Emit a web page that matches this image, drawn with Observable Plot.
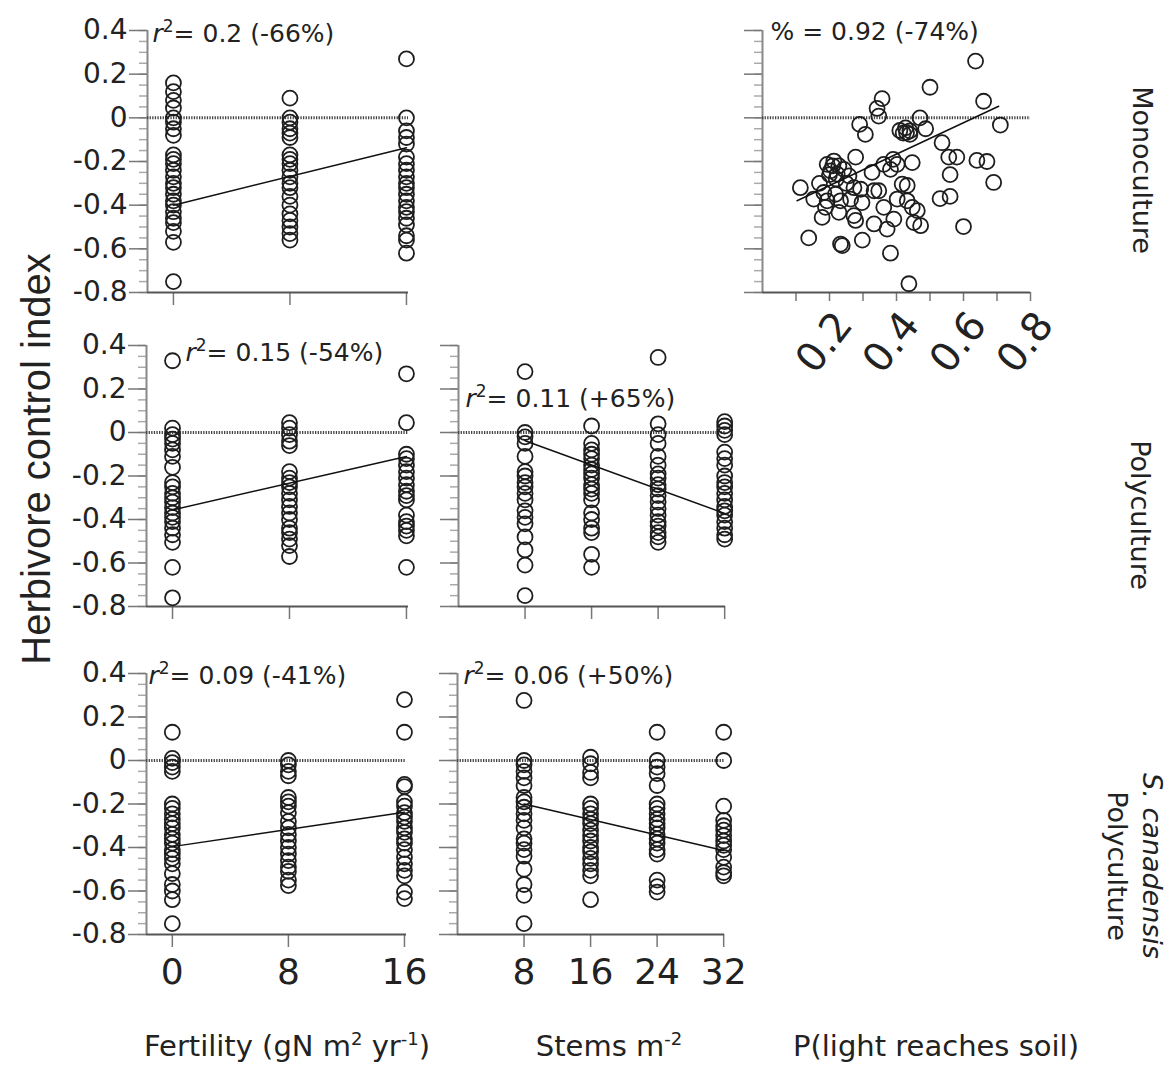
<!DOCTYPE html>
<html><head><meta charset="utf-8">
<script src="https://cdn.jsdelivr.net/npm/d3@7"></script>
<script src="https://cdn.jsdelivr.net/npm/@observablehq/plot@0.6"></script>
<style>
body{margin:0;background:#fff;}
#root{position:relative;width:1175px;height:1065px;overflow:hidden;background:#fff;}
</style></head><body><div id="root"></div>
<script>
// ---------- data ----------
const fertilityLevels = [0, 8, 16];
const stemLevels = [8, 16, 24, 32];
const yMajorTicks = [0.4, 0.2, 0, -0.2, -0.4, -0.6, -0.8];
const yTickLabels = ["0.4", "0.2", "0", "-0.2", "-0.4", "-0.6", "-0.8"];
const fertilityTickLabels = ["0", "8", "16"];
const stemTickLabels = ["8", "16", "24", "32"];
const lightTicks = [0.1, 0.2, 0.3, 0.4, 0.5, 0.6, 0.7, 0.8];
const lightTickLabelValues = [0.2, 0.4, 0.6, 0.8];
const lightTickLabels = ["0.2", "0.4", "0.6", "0.8"];

// Monoculture x Fertility
const monoFert0 = [0.16, 0.12, 0.08, 0.045, 0, -0.02, -0.05, -0.08, -0.17, -0.19, -0.21, -0.24, -0.27, -0.30, -0.32, -0.35, -0.38, -0.40, -0.43, -0.46, -0.48, -0.52, -0.57, -0.75];
const monoFert8 = [0.09, 0, -0.02, -0.05, -0.07, -0.09, -0.17, -0.19, -0.21, -0.24, -0.27, -0.30, -0.32, -0.36, -0.40, -0.44, -0.47, -0.50, -0.53, -0.56];
const monoFert16 = [0.27, 0, -0.06, -0.09, -0.12, -0.18, -0.21, -0.24, -0.27, -0.30, -0.32, -0.35, -0.38, -0.41, -0.43, -0.46, -0.49, -0.54, -0.56, -0.62];
const monoFertFit = [-0.40, -0.137];

// Monoculture x P(light reaches soil)
const lightX = [0.636, 0.50, 0.66, 0.357, 0.342, 0.347, 0.29, 0.307, 0.47, 0.487, 0.41, 0.43, 0.427, 0.44, 0.71, 0.536, 0.278, 0.447, 0.402, 0.382, 0.362, 0.327, 0.556, 0.58, 0.64, 0.67, 0.56, 0.69, 0.53, 0.56, 0.193, 0.213, 0.228, 0.203, 0.223, 0.243, 0.258, 0.113, 0.153, 0.183, 0.193, 0.218, 0.233, 0.263, 0.273, 0.293, 0.297, 0.333, 0.347, 0.362, 0.402, 0.417, 0.432, 0.432, 0.447, 0.462, 0.472, 0.452, 0.392, 0.372, 0.333, 0.278, 0.273, 0.228, 0.178, 0.188, 0.138, 0.233, 0.238, 0.298, 0.382, 0.60, 0.437, 0.21, 0.20, 0.22, 0.25, 0.17, 0.42, 0.44, 0.39];
const lightY = [0.26, 0.14, 0.076, 0.088, 0.043, 0.008, -0.03, -0.076, 0.0, -0.05, -0.058, -0.068, -0.046, -0.076, -0.033, -0.114, -0.18, -0.205, -0.213, -0.236, -0.213, -0.25, -0.18, -0.18, -0.195, -0.20, -0.26, -0.296, -0.37, -0.36, -0.213, -0.198, -0.22, -0.243, -0.258, -0.236, -0.266, -0.32, -0.372, -0.342, -0.38, -0.35, -0.38, -0.372, -0.32, -0.327, -0.388, -0.334, -0.334, -0.41, -0.372, -0.304, -0.31, -0.38, -0.41, -0.425, -0.494, -0.48, -0.464, -0.51, -0.486, -0.47, -0.448, -0.433, -0.456, -0.41, -0.55, -0.578, -0.585, -0.56, -0.62, -0.498, -0.76, -0.22, -0.26, -0.28, -0.30, -0.30, -0.07, -0.06, -0.19];
const lightFitX = [0.103, 0.705];
const lightFitY = [-0.38, 0.053];

// Polyculture x Fertility
const polyFert0 = [0.33, 0.02, -0.01, -0.03, -0.05, -0.08, -0.11, -0.16, -0.23, -0.25, -0.28, -0.30, -0.32, -0.345, -0.37, -0.39, -0.41, -0.44, -0.47, -0.505, -0.62, -0.76];
const polyFert8 = [0.045, 0.02, -0.01, -0.04, -0.06, -0.18, -0.21, -0.23, -0.25, -0.28, -0.31, -0.34, -0.37, -0.40, -0.44, -0.46, -0.49, -0.52, -0.57];
const polyFert16 = [0.27, 0.045, -0.10, -0.12, -0.15, -0.18, -0.21, -0.24, -0.27, -0.29, -0.31, -0.38, -0.41, -0.43, -0.45, -0.475, -0.62];
const polyFertFit = [-0.356, -0.11];

// Polyculture x Stems
const polyStem8 = [0.28, 0, -0.02, -0.05, -0.11, -0.18, -0.20, -0.23, -0.25, -0.28, -0.31, -0.36, -0.39, -0.42, -0.48, -0.54, -0.61, -0.75];
const polyStem16 = [0.03, -0.05, -0.08, -0.10, -0.12, -0.15, -0.17, -0.19, -0.21, -0.24, -0.26, -0.28, -0.31, -0.37, -0.40, -0.44, -0.46, -0.56, -0.62];
const polyStem24 = [0.345, 0.04, -0.01, -0.05, -0.11, -0.15, -0.19, -0.21, -0.24, -0.26, -0.29, -0.32, -0.35, -0.38, -0.41, -0.43, -0.46, -0.48, -0.505];
const polyStem32 = [0.05, 0.03, 0.01, -0.01, -0.09, -0.12, -0.15, -0.20, -0.23, -0.25, -0.28, -0.31, -0.34, -0.36, -0.38, -0.41, -0.44, -0.47, -0.49];
const polyStemFit = [-0.038, -0.372];

// S. canadensis Polyculture x Fertility
const scanFert0 = [0.13, 0.01, -0.01, -0.03, -0.05, -0.20, -0.22, -0.245, -0.27, -0.29, -0.31, -0.34, -0.36, -0.38, -0.41, -0.43, -0.45, -0.475, -0.52, -0.57, -0.60, -0.64, -0.75];
const scanFert8 = [0, -0.02, -0.05, -0.07, -0.17, -0.19, -0.21, -0.24, -0.28, -0.31, -0.34, -0.37, -0.40, -0.43, -0.46, -0.49, -0.51, -0.55, -0.575];
const scanFert16 = [0.28, 0.13, -0.11, -0.12, -0.19, -0.21, -0.24, -0.26, -0.28, -0.31, -0.33, -0.36, -0.38, -0.41, -0.445, -0.475, -0.505, -0.53, -0.605, -0.635];
const scanFertFit = [-0.396, -0.238];

// S. canadensis Polyculture x Stems
const scanStem8 = [0.276, 0, -0.02, -0.05, -0.08, -0.115, -0.17, -0.19, -0.215, -0.245, -0.275, -0.31, -0.36, -0.38, -0.41, -0.44, -0.50, -0.57, -0.62, -0.75];
const scanStem16 = [0.015, -0.015, -0.055, -0.08, -0.20, -0.22, -0.245, -0.27, -0.29, -0.32, -0.345, -0.37, -0.40, -0.42, -0.45, -0.475, -0.505, -0.53, -0.64];
const scanStem24 = [0.13, 0, -0.03, -0.06, -0.115, -0.20, -0.22, -0.245, -0.27, -0.29, -0.31, -0.34, -0.36, -0.38, -0.41, -0.43, -0.55, -0.58, -0.605];
const scanStem32 = [0.13, 0, -0.21, -0.275, -0.30, -0.32, -0.345, -0.37, -0.39, -0.41, -0.445, -0.49, -0.515, -0.53];
const scanStemFit = [-0.20, -0.414];

const annotations = ["r²= 0.2 (-66%)", "% = 0.92 (-74%)", "r²= 0.15 (-54%)", "r²= 0.11 (+65%)", "r²= 0.09 (-41%)", "r²= 0.06 (+50%)"];
const rowLabels = ["Monoculture", "Polyculture"];
const yTitle = "Herbivore control index";

// ---------- helpers ----------
const root = document.getElementById("root");
const FONT = "DejaVu Sans";
const NS = "http://www.w3.org/2000/svg";
function strip(levels, cols) {
  return levels.flatMap((lv, i) => cols[i].map(v => ({x: lv, y: v})));
}
const yMinorTicks = d3.range(-16, 9).map(i => +(i * 0.05).toFixed(2));

function panel(o) {
  const ML = 110, MR = 40, MT = 30, MB = 90;
  const fmtY = o.yLabels ? (d => yTickLabels[yMajorTicks.indexOf(d)]) : (() => "");
  const marks = [
    Plot.axisY({ticks: yMinorTicks, tickSize: 8, tickFormat: () => "", stroke: "#aaa", strokeWidth: 1.5, label: null}),
    Plot.axisY({ticks: yMajorTicks, tickSize: 18, tickPadding: 2, tickFormat: fmtY, stroke: "#777", strokeWidth: 1.5,
      fill: "#222", fontSize: 28, fontFamily: FONT, label: null}),
    Plot.axisX({ticks: o.xTicks, tickSize: o.xTickSize || 13, tickPadding: 11,
      tickFormat: o.xLabels ? (d => o.xLabels[o.xTicks.indexOf(d)]) : (() => ""),
      stroke: "#777", strokeWidth: 1.5, fill: "#222", fontSize: 36, fontFamily: FONT, label: null}),
    Plot.ruleX([o.xDomain[0]], {stroke: "#888", strokeWidth: 2}),
    Plot.ruleY([-0.8], {stroke: "#555", strokeWidth: 2}),
    Plot.ruleY([0], {stroke: "#444", strokeWidth: 3, strokeDasharray: "1.3,1.3"}),
    Plot.dot(o.points, {x: "x", y: "y", r: 7.5, stroke: "#1e1e1e", strokeWidth: 1.8, fill: "none"}),
    Plot.line(o.fitX.map((x, i) => ({x, y: o.fitY[i]})), {x: "x", y: "y", stroke: "#111", strokeWidth: 1.5}),
    Plot.text([o.annot], {frameAnchor: "top-left", dx: o.adx, dy: o.ady, textAnchor: "start", lineAnchor: "middle",
      fontSize: 25, fontFamily: FONT, fill: "#222"})
  ];
  if (o.rotLabels) {
    marks.push(Plot.text(lightTickLabelValues, {x: d => d, text: (d, i) => lightTickLabels[i], frameAnchor: "bottom",
      rotate: -52, textAnchor: "middle", lineAnchor: "middle", dy: 50, dx: -5, fontSize: 40, fontFamily: FONT, fill: "#222"}));
  }
  const svg = Plot.plot({
    width: o.w + ML + MR, height: o.h + MT + MB,
    marginLeft: ML, marginRight: MR, marginTop: MT, marginBottom: MB,
    style: {background: "transparent", overflow: "visible", maxWidth: "none"},
    x: {domain: o.xDomain, label: null},
    y: {domain: [-0.8, 0.4], label: null},
    marks
  });
  svg.style.position = "absolute";
  svg.style.left = (o.left - ML) + "px";
  svg.style.top = (o.top - MT) + "px";
  // italic r with raised 2
  svg.querySelectorAll("text").forEach(t => {
    const s = t.textContent;
    if (s.startsWith("r²")) {
      while (t.firstChild) t.removeChild(t.firstChild);
      const a = document.createElementNS(NS, "tspan"); a.setAttribute("font-style", "italic"); a.textContent = "r";
      const b = document.createElementNS(NS, "tspan"); b.setAttribute("dy", "-10"); b.setAttribute("font-size", "17"); b.textContent = "2";
      const c = document.createElementNS(NS, "tspan"); c.setAttribute("dy", "10"); c.textContent = s.slice(2);
      t.append(a, b, c);
    }
  });
  root.appendChild(svg);
}

// ---------- panels ----------
const fertDomain = [-1.78, 16.14];
const stemDomain = [0, 32.1];
panel({left: 147, top: 30, w: 261, h: 262, xDomain: fertDomain, xTicks: fertilityLevels, yLabels: true,
  points: strip(fertilityLevels, [monoFert0, monoFert8, monoFert16]), fitX: [0, 16], fitY: monoFertFit,
  annot: annotations[0], adx: 5, ady: 3});
panel({left: 762, top: 30, w: 268, h: 262, xDomain: [0, 0.8], xTicks: lightTicks, xTickSize: 9, yLabels: false, rotLabels: true,
  points: lightX.map((x, i) => ({x, y: lightY[i]})), fitX: lightFitX, fitY: lightFitY,
  annot: annotations[1], adx: 8, ady: 1});
panel({left: 146, top: 345, w: 262, h: 261, xDomain: fertDomain, xTicks: fertilityLevels, yLabels: true,
  points: strip(fertilityLevels, [polyFert0, polyFert8, polyFert16]), fitX: [0, 16], fitY: polyFertFit,
  annot: annotations[2], adx: 39, ady: 7});
panel({left: 458, top: 345, w: 267, h: 261, xDomain: stemDomain, xTicks: stemLevels, yLabels: false,
  points: strip(stemLevels, [polyStem8, polyStem16, polyStem24, polyStem32]), fitX: [8, 32], fitY: polyStemFit,
  annot: annotations[3], adx: 7, ady: 53});
panel({left: 146, top: 673, w: 260, h: 261, xDomain: fertDomain, xTicks: fertilityLevels, yLabels: true, xLabels: fertilityTickLabels,
  points: strip(fertilityLevels, [scanFert0, scanFert8, scanFert16]), fitX: [0, 16], fitY: scanFertFit,
  annot: annotations[4], adx: 2, ady: 2});
panel({left: 457, top: 673, w: 267, h: 261, xDomain: stemDomain, xTicks: stemLevels, yLabels: false, xLabels: stemTickLabels,
  points: strip(stemLevels, [scanStem8, scanStem16, scanStem24, scanStem32]), fitX: [8, 32], fitY: scanStemFit,
  annot: annotations[5], adx: 6, ady: 2});

// ---------- titles / labels overlay ----------
const ov = d3.select(root).append("svg")
  .attr("width", 1175).attr("height", 1065)
  .style("position", "absolute").style("left", 0).style("top", 0).style("pointer-events", "none")
  .attr("font-family", FONT).attr("fill", "#222");

ov.append("text").attr("transform", "translate(50,459) rotate(-90)").attr("text-anchor", "middle")
  .attr("font-family", "Liberation Sans").attr("font-size", 40).text(yTitle);

function rowLabel(lines, cx, cy, italicFirst) {
  const g = ov.append("text").attr("transform", `translate(${cx},${cy}) rotate(90)`).attr("text-anchor", "middle").attr("font-size", 27);
  lines.forEach((ln, i) => {
    g.append("tspan").attr("x", 0).attr("y", (i - (lines.length - 1) / 2) * 35 + 9)
      .attr("font-style", italicFirst && i === 0 ? "italic" : null).text(ln);
  });
}
rowLabel([rowLabels[0]], 1142, 170);
rowLabel([rowLabels[1]], 1140, 515);
rowLabel(["S. canadensis", "Polyculture"], 1134, 866, true);

function xTitle(parts, cx) {
  const t = ov.append("text").attr("x", cx).attr("y", 1056).attr("text-anchor", "middle").attr("font-size", 29);
  parts.forEach(p => {
    t.append("tspan").attr("dy", p.sup ? -11 : (p.after ? 11 : null)).attr("font-size", p.sup ? 18 : null).text(p.t);
  });
}
xTitle([{t: "Fertility (gN m"}, {t: "2", sup: true}, {t: " yr", after: true}, {t: "-1", sup: true}, {t: ")", after: true}], 287);
xTitle([{t: "Stems m"}, {t: "-2", sup: true}], 609);
xTitle([{t: "P(light reaches soil)"}], 936);
</script></body></html>
